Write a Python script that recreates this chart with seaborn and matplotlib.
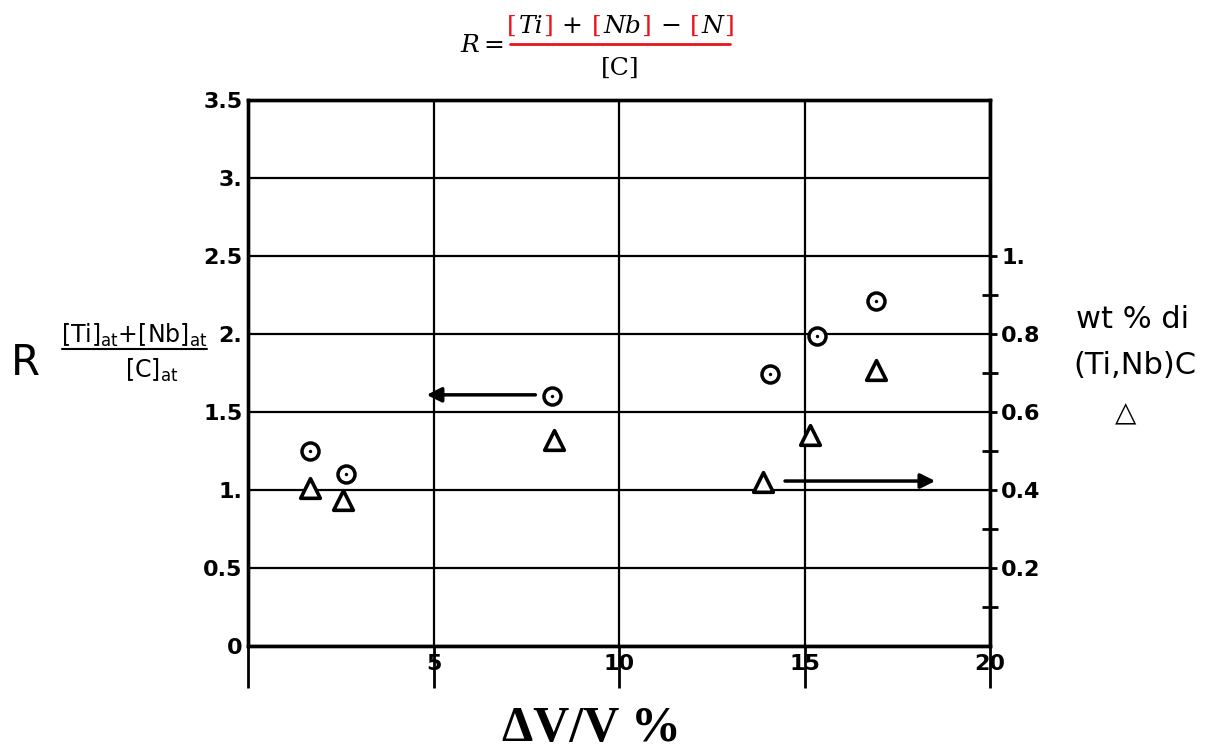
import matplotlib
matplotlib.use("Agg")
import matplotlib.pyplot as plt
from matplotlib.lines import Line2D
import seaborn as sns

# ---- data ----
circle_x = [1.66, 2.63, 8.20, 14.08, 15.33, 16.92]
circle_R = [1.25, 1.10, 1.60, 1.745, 1.99, 2.21]
tri_x = [1.66, 2.56, 8.25, 13.88, 15.16, 16.94]
tri_wt = [0.405, 0.375, 0.528, 0.42, 0.541, 0.708]

x_ticks = [0, 5, 10, 15, 20]
x_ticklabels = ["", "5", "10", "15", "20"]
left_ticks = [0, 0.5, 1.0, 1.5, 2.0, 2.5, 3.0, 3.5]
left_ticklabels = ["0", "0.5", "1.", "1.5", "2.", "2.5", "3.", "3.5"]
right_ticks = [0.2, 0.4, 0.6, 0.8, 1.0]
right_ticklabels = ["0.2", "0.4", "0.6", "0.8", "1."]
right_minor = [0.1, 0.3, 0.5, 0.7, 0.9]

# arrows (data coordinates): (tail_x, tip_x, y)
arrow_R = (7.82, 4.74, 1.61)      # on R axis, pointing left
arrow_wt = (14.4, 18.6, 0.423)    # on wt% axis, pointing right

W, H = 1218, 753
sns.set_style("white")
plt.rcParams['font.family'] = ['DejaVu Sans']
plt.rcParams['text.color'] = 'black'
plt.rcParams['xtick.color'] = 'black'
plt.rcParams['ytick.color'] = 'black'

fig = plt.figure(figsize=(W / 100, H / 100), dpi=100)
ax = fig.add_axes([248 / W, (H - 646) / H, (990 - 248) / W, (646 - 100) / H])
ax.set_xlim(0, 20)
ax.set_ylim(0, 3.5)

ax.grid(True, color="black", linewidth=1.6)
ax.set_axisbelow(True)
for s in ax.spines.values():
    s.set_visible(True)
    s.set_color("black")
    s.set_linewidth(2.4)

ax.set_xticks(x_ticks, x_ticklabels)
ax.set_yticks(left_ticks, left_ticklabels)
ax.tick_params(axis="x", direction="out", length=30, width=2, pad=-24,
               labelsize=16, colors="black", bottom=True)
ax.tick_params(axis="y", length=0, pad=4, labelsize=16, colors="black")
for lab in ax.get_xticklabels() + ax.get_yticklabels():
    lab.set_fontweight("bold")

# circles: R
sns.scatterplot(x=circle_x, y=circle_R, ax=ax, marker="o", s=150,
                color="white", edgecolor="black", linewidth=2.5, zorder=4)
sns.scatterplot(x=circle_x, y=circle_R, ax=ax, marker="o", s=6,
                color="black", edgecolor="black", linewidth=0, zorder=5)
ax.annotate("", xy=(arrow_R[1], arrow_R[2]), xytext=(arrow_R[0], arrow_R[2]),
            arrowprops=dict(arrowstyle="-|>", color="black", lw=2.5,
                            mutation_scale=22))

# triangles: wt% on twin axis
ax2 = ax.twinx()
ax2.set_ylim(0, 1.4)
sns.scatterplot(x=tri_x, y=tri_wt, ax=ax2, marker="^", s=200,
                color="white", edgecolor="black", linewidth=2.6, zorder=4)
ax2.annotate("", xy=(arrow_wt[1], arrow_wt[2]), xytext=(arrow_wt[0], arrow_wt[2]),
             arrowprops=dict(arrowstyle="-|>", color="black", lw=2.5,
                             mutation_scale=22))
ax2.set_yticks(right_ticks, right_ticklabels)
ax2.set_yticks(right_minor, minor=True)
ax2.tick_params(axis="y", which="major", direction="out", length=5, width=2,
                pad=3, labelsize=16, colors="black")
ax2.tick_params(axis="y", which="minor", direction="inout", length=12, width=2,
                colors="black")
for lab in ax2.get_yticklabels():
    lab.set_fontweight("bold")
for s in ax2.spines.values():
    s.set_color("black")
    s.set_linewidth(2.4)
ax2.grid(False)


def fx(px):
    return px / W


def fy(py):
    return 1 - py / H


# ---- left axis label ----
fig.text(fx(25), fy(375), "R", fontsize=30, ha="center", va="baseline")
fig.text(fx(134), fy(343), r"[Ti]$_{\mathregular{at}}$+[Nb]$_{\mathregular{at}}$",
         fontsize=17, ha="center", va="baseline")
fig.add_artist(Line2D([fx(62), fx(207)], [fy(349), fy(349)], color="black",
                      lw=1.5, transform=fig.transFigure))
fig.text(fx(152), fy(378), r"[C]$_{\mathregular{at}}$", fontsize=17,
         ha="center", va="baseline")

# ---- right axis label ----
fig.text(fx(1133), fy(328), "wt % di", fontsize=22, ha="center", va="baseline")
fig.text(fx(1135), fy(374), "(Ti,Nb)C", fontsize=22, ha="center", va="baseline")
fig.text(fx(1126), fy(421), "\u25B3", fontsize=20, ha="center", va="baseline",
         fontweight="bold")

# ---- x label ----
fig.text(fx(591), fy(741), "\u0394V/V %", fontsize=36, fontweight="bold",
         family="Liberation Serif", ha="center", va="baseline")

# ---- title formula, laid out piece by piece ----
serif = "DejaVu Serif"
red = "#e8141b"
ts = 18
renderer = fig.canvas.get_renderer()
num_pieces = [("[", red, "normal", 0), ("Ti", "black", "italic", 2),
              ("]", red, "normal", 0), ("+", "black", "normal", 9),
              ("[", red, "normal", 9), ("Nb", "black", "italic", 2),
              ("]", red, "normal", 0), ("\u2212", "black", "normal", 9),
              ("[", red, "normal", 9), ("N", "black", "italic", 2),
              ("]", red, "normal", 0)]
texts = []
for t, c, st, gap in num_pieces:
    tx = fig.text(0, fy(33), t, color=c, fontsize=ts, family=serif, style=st,
                  ha="left", va="baseline")
    w = tx.get_window_extent(renderer).width
    texts.append((tx, w, gap))
total = sum(w + g for _, w, g in texts)
cur = 620 - total / 2
for tx, w, g in texts:
    cur += g
    tx.set_x(fx(cur))
    cur += w
fig.text(fx(470), fy(52), "R", color="black", fontsize=ts, family=serif,
         style="italic", ha="center", va="baseline")
fig.text(fx(494), fy(52), "=", color="black", fontsize=ts, family=serif,
         ha="center", va="baseline")
fig.text(fx(620), fy(75), "[C]", color="black", fontsize=ts, family=serif,
         ha="center", va="baseline")
fig.add_artist(Line2D([fx(510), fx(730)], [fy(44), fy(44)], color=red,
                      lw=2.0, transform=fig.transFigure))

fig.savefig("out.png", dpi=100)
